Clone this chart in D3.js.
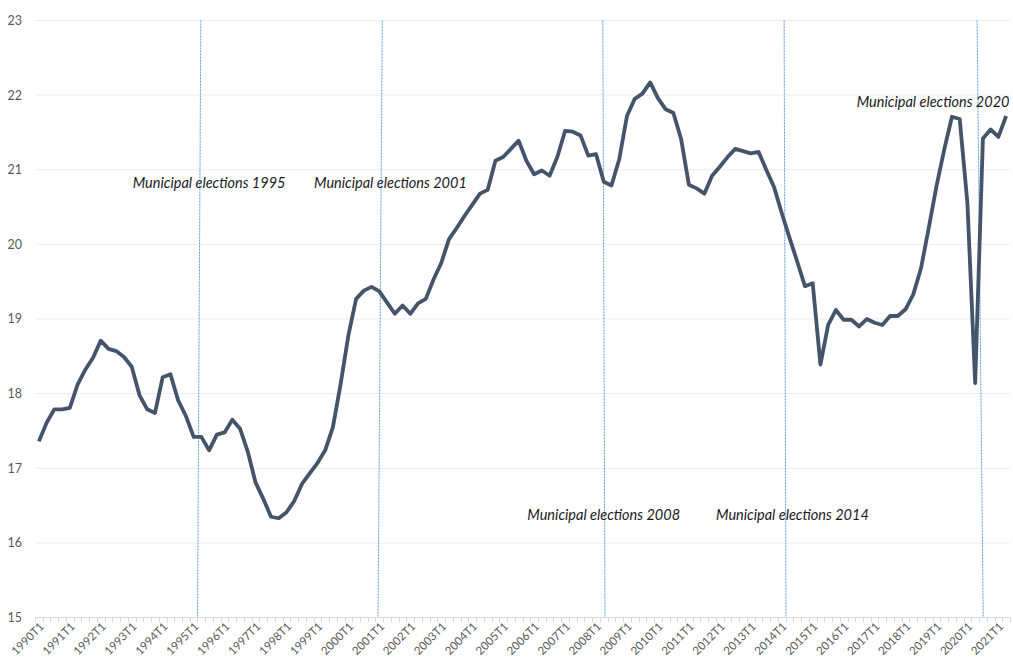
<!DOCTYPE html>
<html>
<head>
<meta charset="utf-8">
<script src="https://cdn.jsdelivr.net/npm/d3@7"></script>
<style>
  html, body { margin: 0; padding: 0; background: #fff; }
  svg { display: block; font-family: Lato, "Liberation Sans", sans-serif; }
</style>
</head>
<body>
<svg id="chart"></svg>
<script>
// quarterly series, 1990T1 .. 2021T2
const values = [
  17.36, 17.61, 17.79, 17.79, 17.81, 18.12, 18.32, 18.48, 18.71, 18.60, 18.57, 18.49,
  18.36, 17.98, 17.79, 17.74, 18.22, 18.26, 17.91, 17.70, 17.42, 17.42, 17.24, 17.45,
  17.48, 17.65, 17.53, 17.22, 16.81, 16.59, 16.35, 16.33, 16.41, 16.56, 16.79, 16.93,
  17.07, 17.24, 17.55, 18.13, 18.78, 19.27, 19.38, 19.43, 19.37, 19.22, 19.07, 19.18,
  19.07, 19.21, 19.27, 19.53, 19.75, 20.07, 20.22, 20.38, 20.53, 20.68, 20.73, 21.12,
  21.17, 21.28, 21.39, 21.12, 20.94, 20.99, 20.92, 21.17, 21.52, 21.51, 21.46, 21.19,
  21.21, 20.84, 20.79, 21.14, 21.72, 21.95, 22.02, 22.17, 21.96, 21.81, 21.76, 21.41,
  20.80, 20.75, 20.68, 20.92, 21.04, 21.17, 21.28, 21.25, 21.22, 21.24, 21.00, 20.77,
  20.42, 20.09, 19.77, 19.44, 19.48, 18.39, 18.92, 19.12, 18.99, 18.99, 18.90, 19.00,
  18.95, 18.92, 19.04, 19.04, 19.13, 19.33, 19.68, 20.22, 20.78, 21.27, 21.71, 21.68,
  20.55, 18.14, 21.42, 21.54, 21.44, 21.72
];

const years = d3.range(1990, 2022);
const quarters = ["T1", "T2", "T3", "T4"];
const categories = years.flatMap(y => quarters.map(q => y + q)).slice(0, values.length);

const yTicks = [15, 16, 17, 18, 19, 20, 21, 22, 23];

// election markers: position in quarters from start (top / bottom end of the line)
const electionNames = ["Municipal elections 1995", "Municipal elections 2001", "Municipal elections 2008",
  "Municipal elections 2014", "Municipal elections 2020"];
const electionTop = [21.43, 44.88, 73.38, 96.81, 121.75];
const electionBottom = [21.0, 44.33, 73.66, 97.05, 122.54];
const labelStart = [12.63, 36.06, 63.62, 88.01, 106.19];
const labelValue = [20.82, 20.82, 16.37, 16.37, 21.91];

const width = 1013, height = 660;
const margin = { top: 20.5, right: 3, bottom: 42.5, left: 35 };

const svg = d3.select("#chart").attr("width", width).attr("height", height);

const x = d3.scaleBand().domain(categories).range([margin.left, width - margin.right]).paddingInner(0).paddingOuter(0);
const xq = d3.scaleLinear().domain([0, categories.length]).range([margin.left, width - margin.right]);
const y = d3.scaleLinear().domain([15, 23]).range([height - margin.bottom, margin.top]);

// gridlines
svg.append("g")
  .selectAll("line")
  .data(yTicks.filter(d => d > 15))
  .join("line")
  .attr("x1", margin.left).attr("x2", width - margin.right)
  .attr("y1", d => y(d)).attr("y2", d => y(d))
  .attr("stroke", "#ededed").attr("stroke-width", 1);

// y labels
svg.append("g")
  .selectAll("text")
  .data(yTicks)
  .join("text")
  .attr("x", 22).attr("y", d => y(d))
  .attr("dy", "0.35em")
  .attr("text-anchor", "end")
  .attr("fill", "#595959")
  .style("font-size", "12.5px")
  .text(d => d);

// x axis line and ticks at every category boundary
const axisY = y(15);
svg.append("line")
  .attr("x1", margin.left).attr("x2", width - margin.right)
  .attr("y1", axisY).attr("y2", axisY)
  .attr("stroke", "#d9d9d9");
svg.append("g")
  .selectAll("line")
  .data(d3.range(0, categories.length + 1))
  .join("line")
  .attr("x1", d => Math.round(xq(d)) + 0.5).attr("x2", d => Math.round(xq(d)) + 0.5)
  .attr("y1", axisY).attr("y2", axisY + 5)
  .attr("stroke", "#d9d9d9");

const xAxis = d3.axisBottom(x)
  .tickValues(categories.filter(c => c.endsWith("T1")))
  .tickSize(0);
svg.append("g")
  .attr("transform", `translate(0, ${axisY})`)
  .call(xAxis)
  .call(g => g.select(".domain").remove())
  .selectAll("text")
  .attr("fill", "#595959")
  .style("font-size", "11.5px")
  .style("font-family", "Lato, 'Liberation Sans', sans-serif")
  .attr("text-anchor", "end")
  .attr("transform", "translate(3, 7) rotate(-45)")
  .attr("dy", "0.35em")
  .attr("y", 0);

// election lines
svg.append("g")
  .selectAll("line")
  .data(electionNames.map((n, i) => ({ top: electionTop[i], bottom: electionBottom[i] })))
  .join("line")
  .attr("x1", d => xq(d.top)).attr("y1", y(23))
  .attr("x2", d => xq(d.bottom)).attr("y2", y(15))
  .attr("stroke", "#5b9bd5")
  .attr("stroke-width", 1)
  .attr("stroke-dasharray", "2,1");

// main series
const line = d3.line()
  .x((d, i) => x(categories[i]) + x.bandwidth() / 2)
  .y(d => y(d));
svg.append("path")
  .datum(values)
  .attr("d", line)
  .attr("fill", "none")
  .attr("stroke", "#44546a")
  .attr("stroke-width", 3.8)
  .attr("stroke-linejoin", "round");

// election labels
svg.append("g")
  .selectAll("text")
  .data(electionNames.map((n, i) => ({ name: n, x: labelStart[i], v: labelValue[i] })))
  .join("text")
  .attr("x", d => xq(d.x))
  .attr("y", d => y(d.v))
  .attr("dy", "0.35em")
  .attr("fill", "#1a1a1a")
  .style("font-size", "14.5px")
  .style("font-style", "italic")
  .text(d => d.name);
</script>
</body>
</html>
